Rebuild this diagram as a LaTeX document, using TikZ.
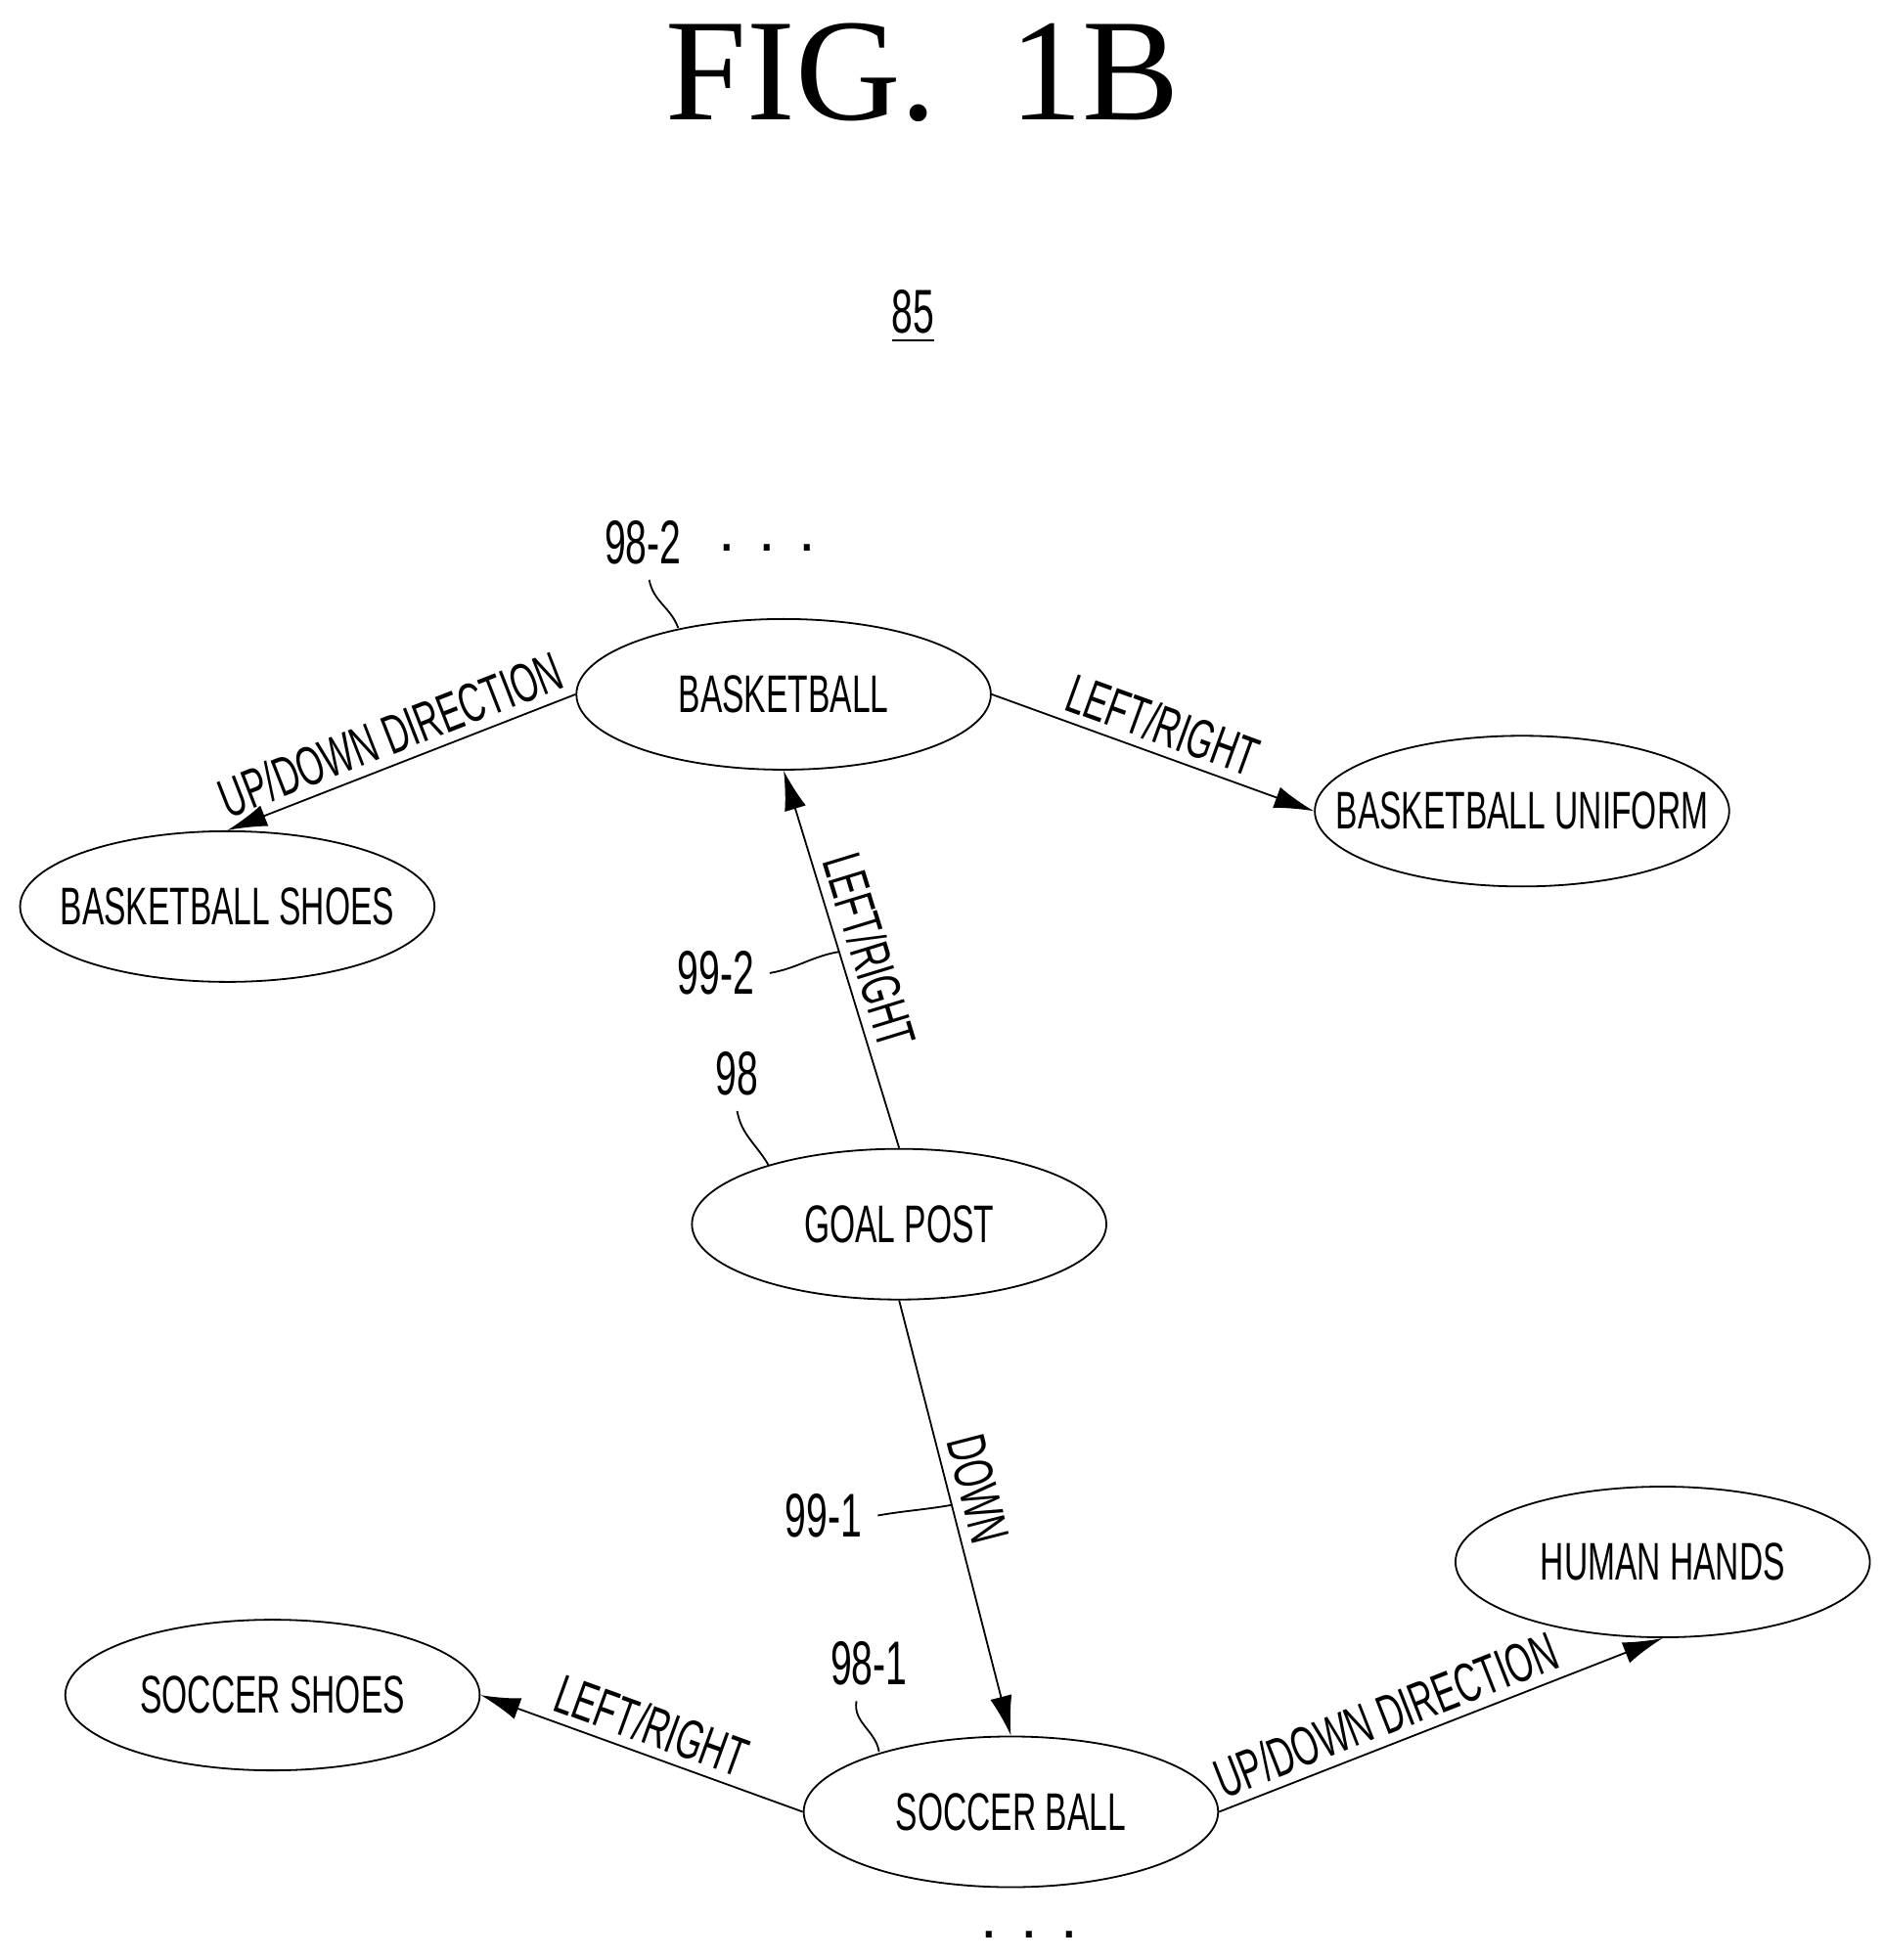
\documentclass[tikz,border=0pt]{standalone}
\usepackage{fontspec}
\setmainfont{Liberation Sans}
\newfontfamily\figfont{Liberation Serif}
\usetikzlibrary{shapes.geometric,arrows.meta}
\newcommand{\nar}[1]{\scalebox{0.62}[1]{#1}}
\tikzset{
  item/.style={draw,ellipse,minimum width=3.3cm,minimum height=1.2cm,inner ysep=0pt,inner xsep=-0.36cm,font=\fontsize{12}{13}\selectfont},
  link/.style={-{Latex[length=9pt,width=5pt]},thin},
  lbl/.style={sloped,above,font=\fontsize{12.5}{14}\selectfont,inner sep=2pt},
  ref/.style={font=\fontsize{14}{15}\selectfont}
}
\begin{document}
\begin{tikzpicture}
		\useasboundingbox (0,0) rectangle (15,15.61);
		% title
		\node[font=\figfont\fontsize{33}{34}\selectfont] (title) at (7.35,15.03) {FIG.\ \ 1B};
		\node[ref] (n85) at (7.27,13.09) {\underline{\nar{85}}};
		
		% ellipses
		\node[item] (bball)   at (6.24,10.08) {\nar{BASKETBALL}};
		\node[item] (bshoes)  at (1.81,8.39)  {\nar{BASKETBALL SHOES}};
		\node[item] (bunif)   at (12.12,9.15) {\nar{BASKETBALL UNIFORM}};
		\node[item] (goal)    at (7.16,5.86)  {\nar{GOAL POST}};
		\node[item] (sshoes)  at (2.17,2.11)  {\nar{SOCCER SHOES}};
		\node[item] (sball)   at (8.05,1.18)  {\nar{SOCCER BALL}};
		\node[item] (hands)   at (13.24,3.17) {\nar{HUMAN HANDS}};
		
		% connectors
		\draw[link] (bball.west) -- node[lbl] {\nar{UP/DOWN DIRECTION}} (bshoes.north);
		\draw[link] (bball.east) -- node[lbl] {\nar{LEFT/RIGHT}} (bunif.west);
		\draw[link] (goal.north) -- node[lbl] {\nar{LEFT/RIGHT}} coordinate[pos=0.52] (c992) (bball.south);
		\draw[link] (goal.south) -- node[lbl,pos=0.45] {\nar{DOWN}} coordinate[pos=0.47] (c991) (sball.north);
		\draw[link] (sball.west) -- node[lbl] {\nar{LEFT/RIGHT}} (sshoes.east);
		\draw[link] (sball.east) -- node[lbl,pos=0.4] {\nar{UP/DOWN DIRECTION}} (hands.south);
		
		% reference numerals
		\node[ref] (r982) at (5.12,11.29) {\nar{98-2}};
		\node[ref] (dots1) at (6.11,11.25) {. . .};
		\node[ref] (r992) at (5.70,7.86) {\nar{99-2}};
		\node[ref] (r98) at (5.87,7.06) {\nar{98}};
		\node[ref] (r991) at (6.56,3.54) {\nar{99-1}};
		\node[ref] (r981) at (6.92,2.36) {\nar{98-1}};
		\node[ref] (dots2) at (8.20,0.20) {. . .};
		\coordinate (c982) at (5.40,10.61);
		\coordinate (c98) at (6.12,6.33);
		\coordinate (c981) at (7.00,1.66);
		
		\draw (r982.south) ++(0.05,0) to[out=-80,in=110] (c982);
		\draw (r992.east) to[out=10,in=190] (c992);
		\draw (r98.south) to[out=-80,in=120] (c98);
		\draw (r991.east) to[out=10,in=190] (c991);
		\draw (r981.south) ++(-0.1,0) to[out=-100,in=100] (c981);
\end{tikzpicture}
\end{document}
